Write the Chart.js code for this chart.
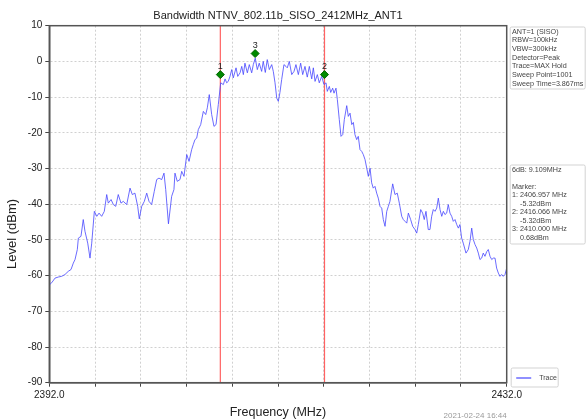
<!DOCTYPE html>
<html>
<head>
<meta charset="utf-8">
<script src="https://cdn.jsdelivr.net/npm/chart.js@4/dist/chart.umd.min.js"></script>
<style>
html,body{margin:0;padding:0;background:#fff;}
canvas{display:block;}
</style>
</head>
<body>
<canvas id="c" width="586" height="420"></canvas>
<script>
// ---- data ----
const traceFreq = [
2392.00,2392.21,2392.50,2392.79,2393.08,2393.37,2393.66,2393.90,2394.10,2394.25,
2394.45,2394.54,2394.77,2394.97,2395.12,2395.36,2395.56,2395.71,2395.94,2396.15,
2396.35,2396.58,2396.81,2397.02,2397.16,2397.40,2397.60,2397.81,2398.03,2398.27,
2398.47,2398.77,2399.06,2399.26,2399.49,2399.73,2399.87,2400.08,2400.31,2400.52,
2400.72,2400.95,2401.18,2401.39,2401.59,2401.83,2402.03,2402.18,2402.42,2402.70,
2402.90,2402.99,2403.19,2403.43,2403.58,2403.78,2404.02,2404.22,2404.45,2404.59,
2404.74,2404.89,2405.03,2405.24,2405.47,2405.68,2405.82,2405.99,2406.20,2406.40,
2406.58,2406.78,2406.99,2407.22,2407.37,2407.51,2407.65,2407.80,2407.95,2408.09,
2408.33,2408.48,2408.68,2408.83,2408.97,2409.11,2409.32,2409.49,2409.70,2409.84,
2410.01,2410.19,2410.36,2410.57,2410.71,2410.89,2411.06,2411.24,2411.45,2411.59,
2411.74,2411.89,2412.03,2412.17,2412.32,2412.52,2412.70,2412.81,2412.99,2413.20,
2413.40,2413.57,2413.78,2413.98,2414.16,2414.36,2414.56,2414.74,2414.95,2415.09,
2415.24,2415.44,2415.61,2415.82,2416.02,2416.20,2416.31,2416.49,2416.61,2416.78,
2416.90,2417.07,2417.19,2417.36,2417.51,2417.66,2417.80,2418.01,2418.15,2418.30,
2418.45,2418.59,2418.73,2418.88,2419.02,2419.17,2419.32,2419.46,2419.61,2419.76,
2419.90,2420.05,2420.19,2420.33,2420.48,2420.63,2420.77,2420.92,2421.07,2421.21,
2421.36,2421.51,2421.65,2421.79,2422.03,2422.23,2422.43,2422.61,2422.82,2422.96,
2423.11,2423.26,2423.40,2423.60,2423.78,2423.98,2424.13,2424.27,2424.48,2424.65,
2424.79,2424.94,2425.14,2425.29,2425.44,2425.58,2425.73,2425.88,2426.02,2426.17,
2426.32,2426.46,2426.60,2426.75,2426.89,2427.04,2427.19,2427.33,2427.48,2427.63,
2427.77,2427.91,2428.06,2428.20,2428.44,2428.64,2428.79,2428.94,2429.08,2429.23,
2429.38,2429.52,2429.66,2429.81,2429.95,2430.10,2430.25,2430.39,2430.54,2430.69,
2430.83,2430.98,2431.12,2431.27,2431.41,2431.56,2431.70,2431.85,2432.00
];
const traceLevel = [
-62.6,-62.0,-60.7,-60.4,-60.2,-59.7,-58.8,-58.3,-56.5,-55.5,
-52.7,-49.5,-49.0,-44.3,-47.6,-50.9,-55.1,-50.9,-42.0,-43.4,
-42.5,-43.4,-42.0,-37.3,-39.7,-38.7,-40.1,-40.6,-37.3,-39.7,
-39.2,-40.1,-35.5,-37.3,-36.9,-40.6,-44.1,-40.6,-39.2,-36.9,
-39.2,-40.1,-36.4,-33.1,-32.7,-33.1,-31.3,-35.9,-45.5,-37.8,
-35.9,-31.3,-33.6,-33.1,-30.8,-32.2,-26.1,-28.0,-24.7,-23.3,
-21.9,-21.5,-19.1,-17.7,-14.0,-14.9,-13.0,-9.3,-14.9,-18.2,
-17.7,-12.1,-6.0,-6.5,-4.9,-6.0,-5.6,-4.2,-2.3,-4.6,
-1.8,-4.2,-3.2,-1.4,-3.7,-0.5,-3.2,-0.9,-3.2,-0.9,
0.9,-2.3,-0.5,-2.8,0.0,-3.1,0.5,-2.3,-0.9,-2.8,
-6.0,-10.3,-11.2,-8.7,-5.1,-0.9,-1.4,-1.8,0.0,-3.7,
-2.8,-0.9,-3.7,-0.5,-3.7,-1.4,-4.4,-1.4,-4.9,-1.8,
-5.6,-3.7,-6.0,-4.2,-6.5,-6.0,-8.4,-7.0,-8.7,-7.5,
-8.9,-7.5,-10.7,-16.3,-21.0,-20.5,-16.3,-12.4,-15.4,-14.5,
-17.7,-17.1,-20.5,-21.9,-21.0,-24.7,-25.2,-26.1,-27.5,-29.9,
-32.2,-29.9,-34.0,-35.5,-35.0,-36.9,-38.3,-40.6,-41.1,-44.3,
-46.2,-42.0,-40.6,-39.2,-34.3,-37.3,-36.9,-39.7,-43.4,-44.3,
-44.8,-45.3,-42.5,-44.3,-46.2,-47.1,-48.1,-45.7,-41.5,-42.5,
-44.3,-42.0,-47.1,-47.1,-43.4,-41.5,-42.0,-41.1,-38.3,-41.5,
-43.4,-42.0,-42.9,-42.5,-40.1,-42.5,-43.4,-44.8,-44.3,-45.7,
-46.7,-45.7,-49.5,-50.9,-53.7,-52.7,-50.4,-46.7,-49.9,-51.3,
-52.3,-53.7,-55.5,-55.1,-53.7,-54.6,-53.3,-52.7,-54.6,-55.5,
-55.1,-55.1,-57.9,-59.3,-60.2,-59.7,-60.2,-59.7,-57.9
];
const markerNames = ["1","2","3"];
const markerFreq  = [2406.957, 2416.066, 2410.000];
const markerLevel = [-3.7, -3.7, 2.2];     // plotted position as seen in the picture
const boundFreq   = [2406.957, 2416.066];  // red 6 dB bandwidth lines
const xTickEnds   = [2392, 2432];
const yRange      = [-90, 10];
const titleText   = "Bandwidth NTNV_802.11b_SISO_2412MHz_ANT1";
const yTitleText  = "Level (dBm)";
const infoLines   = ["ANT=1 (SISO)","RBW=100kHz","VBW=300kHz","Detector=Peak","Trace=MAX Hold","Sweep Point=1001","Sweep Time=3.867ms"];
const markerLines = ["6dB: 9.109MHz","","Marker:","1: 2406.957 MHz","    -5.32dBm","2: 2416.066 MHz","    -5.32dBm","3: 2410.000 MHz","    0.68dBm"];
const stampText   = "2021-02-24 16:44";

const FONT = "'Liberation Sans', Arial, sans-serif";

const traceData = traceFreq.map((f,i)=>({x:f, y:traceLevel[i]}));
const markerData = markerFreq.map((f,i)=>({x:f, y:markerLevel[i]}));
const boundSets = boundFreq.map(f=>({
  type:'line', label:'bound', data:[{x:f,y:yRange[0]},{x:f,y:yRange[1]}],
  borderColor:'rgba(255,70,70,0.85)', borderWidth:1.2, pointRadius:0, order:3
}));

function roundRect(ctx,x,y,w,h,r){
  ctx.beginPath();
  ctx.moveTo(x+r,y);ctx.lineTo(x+w-r,y);ctx.quadraticCurveTo(x+w,y,x+w,y+r);
  ctx.lineTo(x+w,y+h-r);ctx.quadraticCurveTo(x+w,y+h,x+w-r,y+h);
  ctx.lineTo(x+r,y+h);ctx.quadraticCurveTo(x,y+h,x,y+h-r);
  ctx.lineTo(x,y+r);ctx.quadraticCurveTo(x,y,x+r,y);ctx.closePath();
}

const decor = {
  id:'decor',
  afterDraw(chart){
    const ctx = chart.ctx, a = chart.chartArea;
    const xs = chart.scales.x, ys = chart.scales.y;
    ctx.save();
    // frame
    ctx.strokeStyle = '#555'; ctx.lineWidth = 1.5;
    ctx.strokeRect(a.left, a.top, a.right-a.left, a.bottom-a.top);
    // title
    ctx.fillStyle = '#222'; ctx.font = "11px "+FONT;
    ctx.textAlign = 'center'; ctx.textBaseline = 'middle';
    ctx.fillText(titleText, (a.left+a.right)/2, 16);
    // y axis title
    ctx.save();
    ctx.translate(12, 234); ctx.rotate(-Math.PI/2);
    ctx.font = "13px "+FONT; ctx.fillStyle = '#222';
    ctx.fillText(yTitleText, 0, 0);
    ctx.restore();
    // marker numbers
    ctx.font = "9px "+FONT; ctx.fillStyle = '#222';
    markerData.forEach((p,i)=>{
      ctx.fillText(markerNames[i], xs.getPixelForValue(p.x), ys.getPixelForValue(p.y)-8);
    });
    // info box
    const bx = a.right+3.5, bw = 75;
    ctx.lineWidth = 0.8; ctx.strokeStyle = '#c8c8c8'; ctx.fillStyle='#fff';
    roundRect(ctx,bx,27,bw,62,1.5); ctx.fill(); ctx.stroke();
    ctx.fillStyle = '#444'; ctx.font = "7.2px "+FONT; ctx.textAlign='left';
    infoLines.forEach((t,i)=>ctx.fillText(t, bx+1.8, 31.8+i*8.67));
    // marker box
    ctx.fillStyle='#fff';
    roundRect(ctx,bx,165,bw,79,1.5); ctx.fill(); ctx.stroke();
    ctx.fillStyle = '#444';
    markerLines.forEach((t,i)=>ctx.fillText(t, bx+1.8, 170+i*8.5));
    // legend
    ctx.fillStyle='#fff';
    roundRect(ctx,bx+1,368,47,19,1.5); ctx.fill(); ctx.stroke();
    const ds = chart.data.datasets[0];
    ctx.strokeStyle = ds.borderColor; ctx.lineWidth = 1.5;
    ctx.beginPath(); ctx.moveTo(bx+6,378); ctx.lineTo(bx+21,378); ctx.stroke();
    ctx.fillStyle = '#444'; ctx.font = "7px "+FONT;
    ctx.fillText(ds.label, bx+29, 378);
    // timestamp
    ctx.fillStyle = '#9a9a9a'; ctx.font = "8px "+FONT; ctx.textAlign='right';
    ctx.fillText(stampText, a.right, 416);
    ctx.restore();
  }
};

new Chart(document.getElementById('c'), {
  type:'line',
  data:{
    datasets:[
      {label:'Trace', data:traceData, borderColor:'rgba(70,70,255,0.8)', borderWidth:1,
       pointRadius:0, tension:0, order:2},
      ...boundSets,
      {type:'scatter', label:'Marker', data:markerData, pointStyle:'rectRot', pointRadius:4,
       backgroundColor:'#008a00', borderColor:'#006400', borderWidth:1, order:0}
    ]
  },
  options:{
    responsive:false, animation:false, devicePixelRatio:1,
    layout:{padding:{left:0, right:79.3, top:25.7, bottom:0}},
    plugins:{legend:{display:false}, tooltip:{enabled:false}, title:{display:false}},
    scales:{
      x:{type:'linear', min:xTickEnds[0], max:xTickEnds[1],
        afterFit:s=>{s.height = 37.3;},
        ticks:{stepSize:4, autoSkip:false, maxRotation:0, padding:3, color:'#222',
          font:{family:FONT, size:10},
          callback:v=> (v===xTickEnds[0]||v===xTickEnds[1]) ? v.toFixed(1) : ''},
        grid:{color:'#c4c4c4', lineWidth:0.8, tickLength:4, tickColor:'#444', tickWidth:1, tickBorderDash:[]},
        border:{display:true, color:'#555', width:1.5, dash:[2,2]},
        title:{display:true, text:'Frequency (MHz)', color:'#222', font:{family:FONT, size:12.5}, padding:{top:0,bottom:0}}
      },
      y:{min:yRange[0], max:yRange[1],
        afterFit:s=>{s.width = 49.3;},
        ticks:{stepSize:10, padding:3, color:'#222', font:{family:FONT, size:10}},
        grid:{color:'#c4c4c4', lineWidth:0.8, tickLength:4, tickColor:'#444', tickWidth:1, tickBorderDash:[]},
        border:{display:true, color:'#555', width:1.5, dash:[2,2]},
        title:{display:false}
      }
    }
  },
  plugins:[decor]
});
</script>
</body>
</html>
